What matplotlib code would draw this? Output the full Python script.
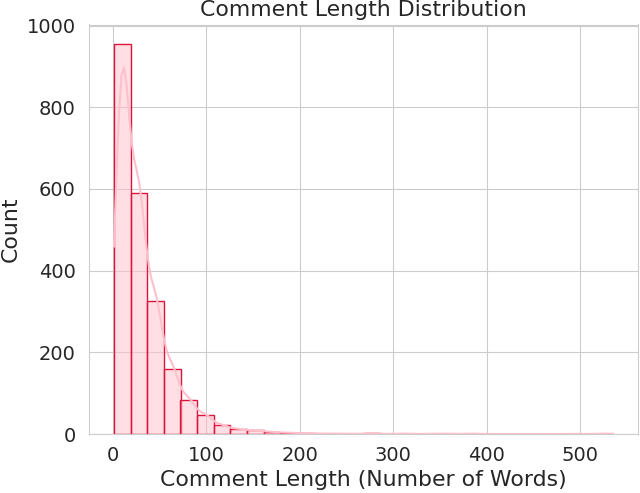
import matplotlib
matplotlib.use("Agg")
import matplotlib.pyplot as plt
import seaborn as sns
import numpy as np

# comment lengths (words) binned into 30 equal bins, counts
min_len = 1
max_len = 535
n_bins = 30
bin_counts = [955, 590, 325, 160, 83, 46, 21, 12, 9, 5,
              3, 2, 1, 1, 0, 2, 0, 1, 0, 1,
              0, 1, 0, 0, 0, 0, 0, 0, 0, 1]

edges = np.linspace(min_len, max_len, n_bins + 1)
centers = (edges[:-1] + edges[1:]) / 2

sns.set_style("whitegrid")
plt.rcParams["font.family"] = ["DejaVu Sans"]

fig = plt.figure(figsize=(6.4, 4.93), dpi=100)
ax = fig.add_axes([89 / 640, 59 / 493, 549 / 640, 409.5 / 493])

sns.histplot(x=centers, weights=bin_counts, bins=n_bins, binrange=(min_len, max_len),
             kde=True, color="pink", edgecolor="crimson", linewidth=1,
             kde_kws={"bw_adjust": 0.26, "cut": 3, "clip": (min_len, max_len)},
             line_kws={"linewidth": 1.5}, ax=ax)

ax.set_title("Comment Length Distribution", fontsize=15.8)
ax.set_xlabel("Comment Length (Number of Words)", fontsize=15.8)
ax.set_ylabel("Count", fontsize=15.8)
ax.tick_params(axis="both", labelsize=14)
ax.tick_params(axis="y", pad=6)
ax.tick_params(axis="x", pad=5)
ax.set_xticks([0, 100, 200, 300, 400, 500])

fig.savefig("out.png", dpi=100)
